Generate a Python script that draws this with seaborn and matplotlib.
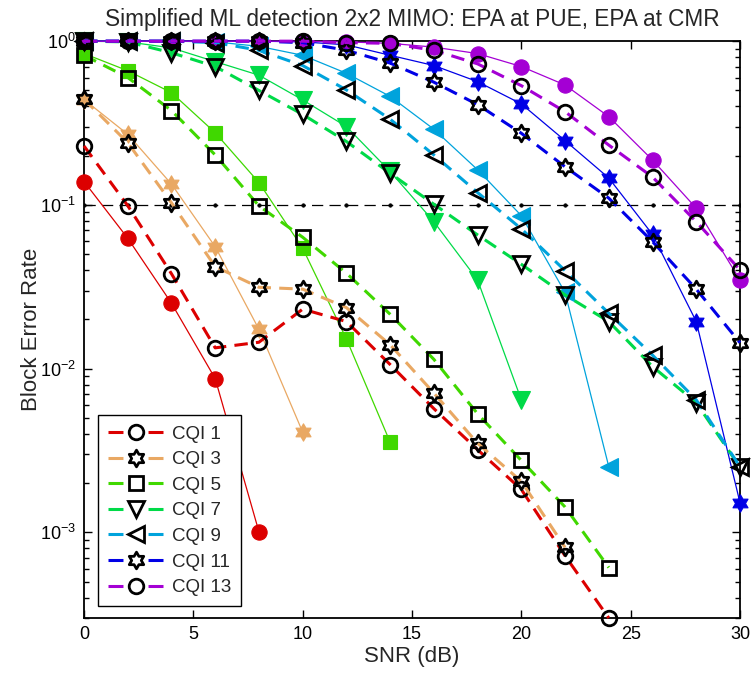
import numpy as np
import matplotlib
matplotlib.use("Agg")
import matplotlib.pyplot as plt
from matplotlib.lines import Line2D
from matplotlib.path import Path
from matplotlib.ticker import LogLocator
import seaborn as sns

# ---------------------------------------------------------------- data
snr_db = [0, 2, 4, 6, 8, 10, 12, 14, 16, 18, 20, 22, 24, 26, 28, 30]
cqi_labels = ["CQI 1", "CQI 3", "CQI 5", "CQI 7", "CQI 9", "CQI 11", "CQI 13"]
target_bler = 0.1

# block error rate, EPA channel at the PUE (dashed curves, open markers)
pue_cqi1 = [0.229, 0.099, 0.038, 0.0134, 0.0145, 0.0231, 0.0194, 0.0106, 0.0057, 0.0032, 0.00183, 0.00072, 0.00030]
pue_cqi3 = [0.442, 0.24, 0.103, 0.042, 0.0314, 0.0306, 0.0236, 0.014, 0.0071, 0.0035, 0.00205, 0.00081]
pue_cqi5 = [0.82, 0.60, 0.377, 0.202, 0.0986, 0.0635, 0.0383, 0.0215, 0.0114, 0.0053, 0.00275, 0.00143, 0.00061]
pue_cqi7 = [1.0, 0.99, 0.85, 0.70, 0.50, 0.357, 0.244, 0.156, 0.101, 0.0656, 0.0434, 0.0282, 0.0194, 0.0103, 0.0062, 0.0025]
pue_cqi9 = [1.0, 1.0, 1.0, 0.98, 0.88, 0.71, 0.504, 0.334, 0.202, 0.119, 0.0715, 0.0397, 0.0218, 0.0121, 0.00645, 0.00252]
pue_cqi11 = [1.0, 1.0, 1.0, 1.0, 1.0, 0.98, 0.88, 0.735, 0.562, 0.41, 0.274, 0.171, 0.11, 0.0597, 0.0306, 0.0144]
pue_cqi13 = [1.0, 1.0, 1.0, 1.0, 1.0, 1.0, 0.98, 0.97, 0.88, 0.727, 0.535, 0.371, 0.232, 0.148, 0.079, 0.0401]

# block error rate, EPA channel at the CMR (thin solid curves, filled markers)
cmr_cqi1 = [0.139, 0.0626, 0.0251, 0.0087, 0.00101]
cmr_cqi3 = [0.44, 0.27, 0.134, 0.0556, 0.0174, 0.0041]
cmr_cqi5 = [0.84, 0.66, 0.485, 0.276, 0.137, 0.0544, 0.0152, 0.00356]
cmr_cqi7 = [1.0, 0.99, 0.91, 0.75, 0.62, 0.438, 0.301, 0.16, 0.079, 0.0348, 0.00645]
cmr_cqi9 = [1.0, 1.0, 1.0, 0.99, 0.93, 0.82, 0.637, 0.46, 0.29, 0.164, 0.086, 0.0292, 0.00252]
cmr_cqi11 = [1.0, 1.0, 1.0, 1.0, 1.0, 0.99, 0.95, 0.82, 0.71, 0.566, 0.414, 0.247, 0.146, 0.066, 0.0194, 0.00152]
cmr_cqi13 = [1.0, 1.0, 1.0, 1.0, 1.0, 1.0, 0.99, 0.97, 0.92, 0.84, 0.70, 0.54, 0.346, 0.188, 0.0955, 0.0348]

pue_series = [pue_cqi1, pue_cqi3, pue_cqi5, pue_cqi7, pue_cqi9, pue_cqi11, pue_cqi13]
cmr_series = [cmr_cqi1, cmr_cqi3, cmr_cqi5, cmr_cqi7, cmr_cqi9, cmr_cqi11, cmr_cqi13]

# ---------------------------------------------------------------- style
colors = ["#dc0000", "#e9a863", "#40d800", "#00da48", "#00a3dc", "#0000e6", "#a400d4"]
hexagram = Path.unit_regular_star(6, innerCircle=1 / np.sqrt(3))
markers = ["o", hexagram, "s", "v", "<", hexagram, "o"]
open_sizes = [10.5, 12, 9.5, 11.5, 11.5, 12, 10.5]
fill_sizes = [11, 12.5, 9.5, 12.5, 12.5, 12.5, 11]

sns.set_theme(style="ticks")
plt.rcParams["font.family"] = ["Liberation Sans", "DejaVu Sans"]
plt.rcParams["mathtext.fontset"] = "custom"
plt.rcParams["mathtext.rm"] = "Liberation Sans"
plt.rcParams["mathtext.it"] = "Liberation Sans:italic"
plt.rcParams["mathtext.bf"] = "Liberation Sans:bold"

fig = plt.figure(figsize=(7.54, 6.75), dpi=100)
ax = fig.add_axes([0.1114, 0.0844, 0.8700, 0.8546])
ax.set_yscale("log")

dash_style = (0, (4.4, 2.7))

# CMR curves underneath
for vals, col, mk, ms in zip(cmr_series, colors, markers, fill_sizes):
    sns.lineplot(x=snr_db[:len(vals)], y=vals, ax=ax, color=col, linewidth=0.9,
                 marker=mk, markersize=ms, markerfacecolor=col, markeredgecolor=col,
                 markeredgewidth=0.8, errorbar=None, estimator=None, sort=False,
                 legend=False, clip_on=False, zorder=3)

# PUE curves on top
for vals, col, mk, ms in zip(pue_series, colors, markers, open_sizes):
    sns.lineplot(x=snr_db[:len(vals)], y=vals, ax=ax, color=col, linewidth=2.2,
                 linestyle=dash_style, marker=mk, markersize=ms,
                 markerfacecolor="none", markeredgecolor="black",
                 markeredgewidth=2.0, errorbar=None, estimator=None, sort=False,
                 legend=False, clip_on=False, zorder=4)

# 10% BLER target
sns.lineplot(x=snr_db, y=[target_bler] * len(snr_db), ax=ax, color="black",
             linewidth=0.9, linestyle=(0, (9, 5)), marker=".", markersize=5,
             markeredgecolor="black", markerfacecolor="black", markeredgewidth=0.5,
             errorbar=None, estimator=None, sort=False, legend=False, zorder=2.6)

ax.set_xlim(0, 30)
ax.set_ylim(3e-4, 1)
ax.set_xticks([0, 5, 10, 15, 20, 25, 30])
ax.yaxis.set_major_locator(LogLocator(base=10, numticks=10))
ax.yaxis.set_minor_locator(LogLocator(base=10, subs=np.arange(2, 10), numticks=20))
ax.tick_params(axis="both", which="both", direction="in", top=True, right=True,
               colors="black", labelsize=13, width=1.0)
ax.tick_params(axis="both", which="major", length=6, pad=6)
ax.tick_params(axis="y", which="minor", length=3.5)
for sp in ax.spines.values():
    sp.set_visible(True)
    sp.set_linewidth(1.3)
    sp.set_color("black")

ax.set_xlabel("SNR (dB)", fontsize=16, labelpad=2)
ax.set_ylabel("Block Error Rate", fontsize=16, labelpad=-2)
ax.set_title("Simplified ML detection 2x2 MIMO: EPA at PUE, EPA at CMR",
             fontsize=16.3, pad=11)

handles = [
    Line2D([], [], color=col, linewidth=2.2, linestyle=(0, (4.9, 8.2)),
           marker=mk, markersize=ms, markerfacecolor="none",
           markeredgecolor="black", markeredgewidth=2.0)
    for col, mk, ms in zip(colors, markers, open_sizes)
]
leg = ax.legend(handles, cqi_labels, loc="lower left", bbox_to_anchor=(0.021, 0.02),
                borderaxespad=0, fontsize=13.5, handlelength=3.0, handletextpad=0.4,
                labelspacing=0.45, borderpad=0.55, fancybox=False, framealpha=1,
                edgecolor="black", numpoints=1)
leg.get_frame().set_linewidth(1.0)
leg.set_zorder(6)

fig.savefig("out.png", dpi=100)
